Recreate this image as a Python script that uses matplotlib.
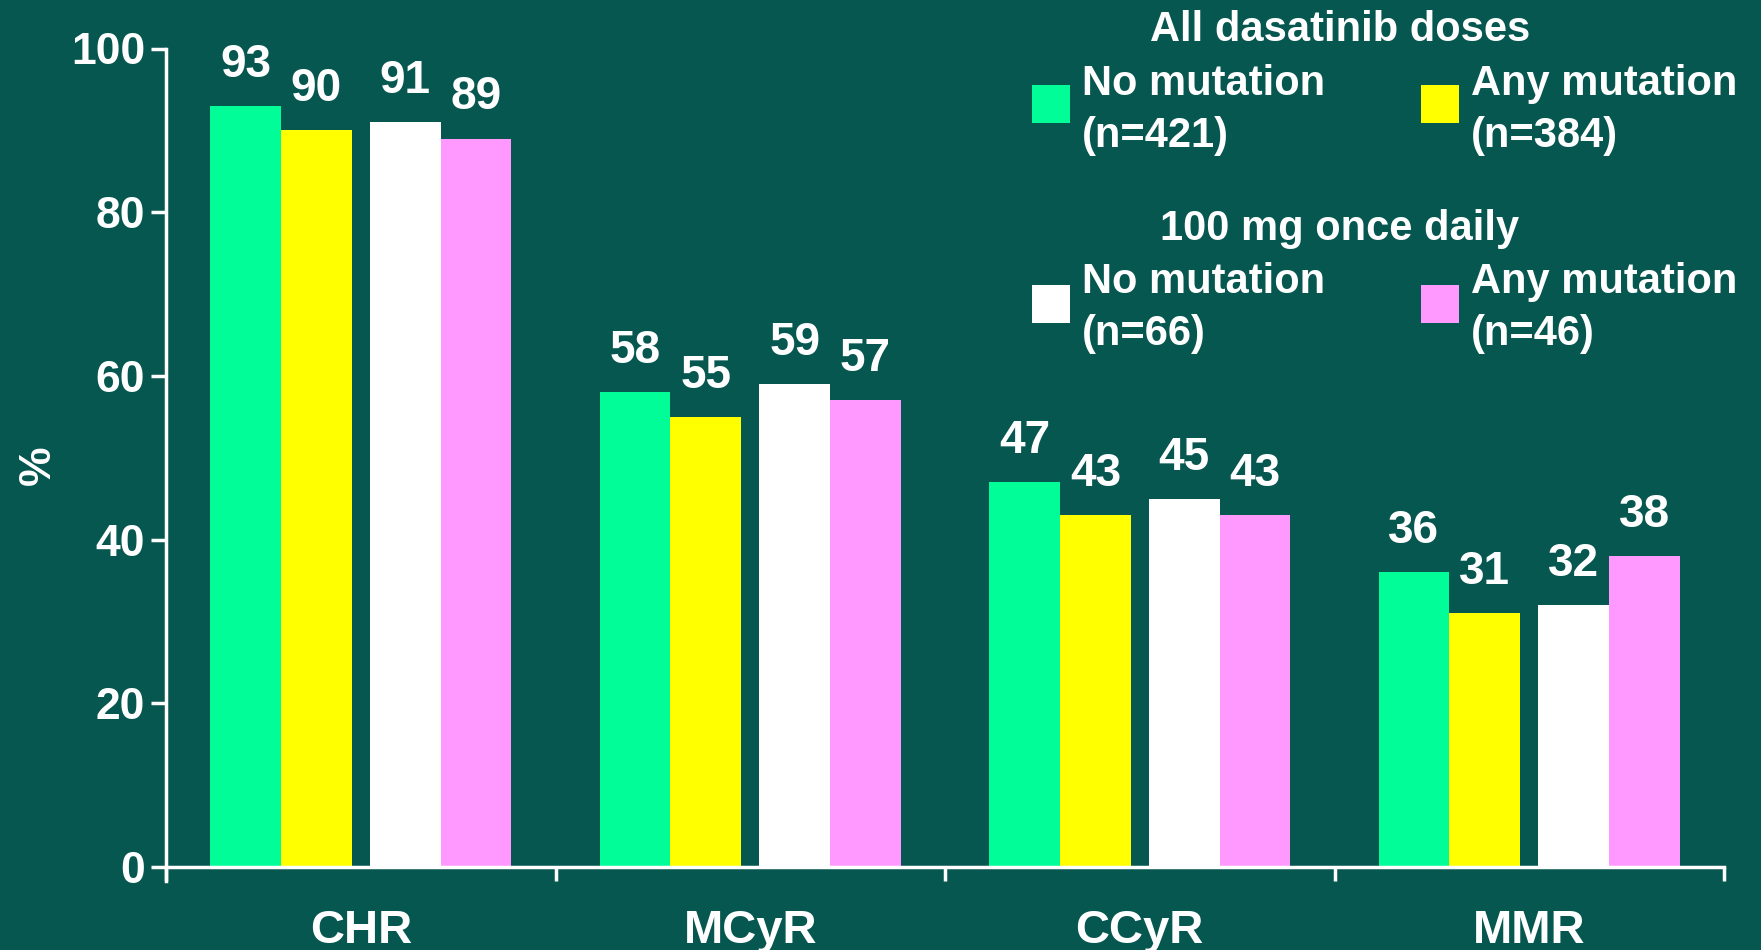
import matplotlib
matplotlib.use("Agg")
import matplotlib.pyplot as plt
from matplotlib.patches import Rectangle
import numpy as np

plt.rcParams['font.family'] = ['Liberation Sans', 'DejaVu Sans']
plt.rcParams['font.weight'] = 'bold'

# Response categories and response rates (%)
categories = ["CHR", "MCyR", "CCyR", "MMR"]
all_no_mut = [93, 58, 47, 36]
all_any_mut = [90, 55, 43, 31]
qd100_no_mut = [91, 59, 45, 32]
qd100_any_mut = [89, 57, 43, 38]

series_values = [all_no_mut, all_any_mut, qd100_no_mut, qd100_any_mut]
series_colors = ["#00FD98", "#FFFF00", "#FFFFFF", "#FF99FF"]
legend_names = ["No mutation", "Any mutation", "No mutation", "Any mutation"]
legend_counts = ["(n=421)", "(n=384)", "(n=66)", "(n=46)"]
legend_titles = ["All dasatinib doses", "100 mg once daily"]
y_ticks = [0, 20, 40, 60, 80, 100]

BG = "#075751"
W, H = 1761, 950
fig = plt.figure(figsize=(W / 100, H / 100), dpi=100, facecolor=BG)

# axes box: x from 166 px to 1724 px; y=100 at 48.5 px, y=0 at 867 px
px_per_unit = (867 - 48.5) / 100
ymin = -14 / px_per_unit
ax_left, ax_right = 166 / W, 1724 / W
ax_top = 1 - 48.5 / H
ax_bottom = 1 - (867 + 14) / H
ax = fig.add_axes([ax_left, ax_bottom, ax_right - ax_left, ax_top - ax_bottom])
ax.set_facecolor(BG)

x = np.arange(len(categories))
bw = 0.182
offsets = [-0.296, -0.114, 0.114, 0.296]
for vals, col, off in zip(series_values, series_colors, offsets):
    bars = ax.bar(x + off, vals, width=bw, color=col, linewidth=0, zorder=2)
    for rect, v in zip(bars, vals):
        ax.annotate(f"{v}", (rect.get_x() + rect.get_width() / 2, v),
                    xytext=(0, 21), textcoords="offset points",
                    ha="center", va="baseline", color="white",
                    fontsize=33, fontweight="bold")

ax.set_xlim(-0.5, len(categories) - 0.5)
ax.set_ylim(ymin, 100)

for s in ["top", "right"]:
    ax.spines[s].set_visible(False)
ax.spines["left"].set_bounds(ymin, 100)
ax.spines["bottom"].set_position(("data", 0))
for s in ["left", "bottom"]:
    ax.spines[s].set_color("white")
    ax.spines[s].set_linewidth(2.5)
    ax.spines[s].set_zorder(3)

ax.set_yticks(y_ticks)
ax.set_yticklabels([str(t) for t in y_ticks])
ax.tick_params(axis="y", colors="white", length=11, width=2.5, pad=4,
               labelsize=32)
ax.set_xticks(np.arange(-0.5, len(categories), 1.0))
ax.set_xticklabels([])
ax.tick_params(axis="x", colors="white", length=10, width=2.5, direction="out")
for lab in ax.get_yticklabels():
    lab.set_fontweight("bold")

for i, c in enumerate(categories):
    ax.annotate(c, (i, 0), xytext=(0, -54.5), textcoords="offset points",
                ha="center", va="baseline", color="white",
                fontsize=34, fontweight="bold", annotation_clip=False)

fig.text(38 / W, 1 - 465 / H, "%", rotation=90, ha="center", va="center",
         color="white", fontsize=32, fontweight="bold")

# legend blocks drawn in figure pixels
def fx(px):
    return px / W

def fy(py):
    return 1 - py / H

title_baselines = [41, 240]
square_tops = [85, 285]
name_baselines = [95, 293]
count_baselines = [147, 345]
col_x = [(1032, 1082), (1421, 1471)]
sq = 38
for g in range(2):
    fig.text(fx(1340), fy(title_baselines[g]), legend_titles[g],
             ha="center", va="baseline", color="white", fontsize=30,
             fontweight="bold")
    for c in range(2):
        k = g * 2 + c
        sx, tx = col_x[c]
        fig.patches.append(Rectangle((fx(sx), fy(square_tops[g] + sq)),
                                     sq / W, sq / H, transform=fig.transFigure,
                                     facecolor=series_colors[k], linewidth=0))
        fig.text(fx(tx), fy(name_baselines[g]), legend_names[k],
                 ha="left", va="baseline", color="white", fontsize=30,
                 fontweight="bold")
        fig.text(fx(tx), fy(count_baselines[g]), legend_counts[k],
                 ha="left", va="baseline", color="white", fontsize=30,
                 fontweight="bold")

fig.savefig("out.png", dpi=100, facecolor=BG)
